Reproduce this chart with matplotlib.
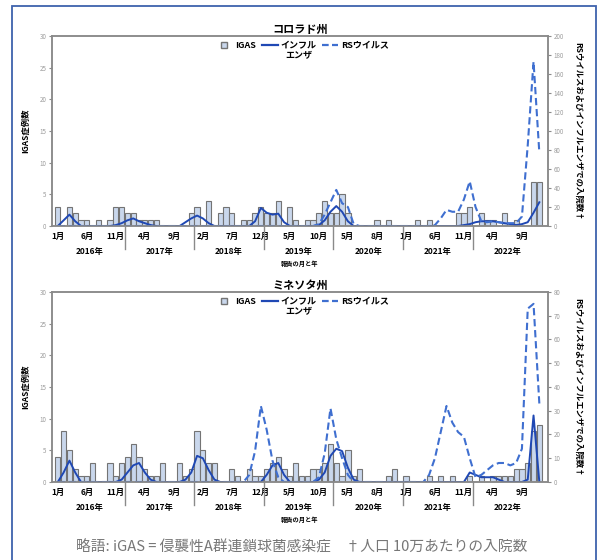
import matplotlib
matplotlib.use("Agg")
import matplotlib.pyplot as plt
import matplotlib.transforms as mtransforms
from matplotlib.lines import Line2D
from matplotlib.patches import Rectangle

plt.rcParams['font.family'] = ['Noto Sans CJK JP', 'DejaVu Sans']

# monthly data, Jan 2016 .. Dec 2022
months = list(range(84))
month_ticks = list(range(0, 84, 5))
month_labels = ["1月", "6月", "11月", "4月", "9月", "2月", "7月", "12月", "5月",
                "10月", "5月", "8月", "1月", "6月", "11月", "4月", "9月"]
year_labels = ["2016年", "2017年", "2018年", "2019年", "2020年", "2021年", "2022年"]

co_igas = [3, 0, 3, 2, 1, 1, 0, 1, 0, 1, 3, 3,
           2, 2, 1, 1, 1, 1, 0, 0, 0, 0, 0, 2,
           3, 0, 4, 0, 2, 3, 2, 0, 1, 1, 2, 3,
           2, 2, 4, 0, 3, 1, 0, 1, 1, 2, 4, 2,
           2, 5, 2, 0, 0, 0, 0, 1, 0, 1, 0, 0,
           0, 0, 1, 0, 1, 0, 0, 0, 0, 2, 2, 3,
           0, 2, 1, 1, 0, 2, 0, 1, 0, 0, 7, 7]
co_flu = [0, 6, 12, 5, 0, 0, 0, 0, 0, 0, 1, 3,
          6, 8, 5, 3, 1, 0, 0, 0, 0, 0, 4, 8,
          11, 8, 3, 0, 0, 0, 0, 0, 0, 0, 5, 19,
          14, 12, 13, 4, 0, 0, 0, 0, 0, 1, 6, 15,
          21, 15, 5, 0, 0, 0, 0, 0, 0, 0, 0, 0,
          0, 0, 0, 0, 0, 0, 0, 0, 0, 0, 1, 2,
          4, 5, 5, 5, 4, 3, 2, 1, 2, 4, 14, 25]
co_rsv = [0, 0, 0, 0, 0, 0, 0, 0, 0, 0, 0, 0,
          0, 0, 0, 0, 0, 0, 0, 0, 0, 0, 0, 0,
          0, 0, 0, 0, 0, 0, 0, 0, 0, 0, 0, 0,
          0, 0, 0, 0, 0, 0, 0, 0, 0, 2, 12, 25,
          38, 24, 20, 2, 0, 0, 0, 0, 0, 0, 0, 0,
          0, 0, 0, 0, 0, 1, 8, 17, 15, 15, 28, 47,
          20, 5, 4, 5, 4, 3, 3, 3, 10, 85, 173, 77]

mn_igas = [4, 8, 5, 2, 1, 1, 3, 0, 0, 3, 1, 3,
           4, 6, 4, 2, 1, 1, 3, 0, 0, 3, 1, 2,
           8, 5, 3, 3, 0, 0, 2, 1, 0, 2, 1, 1,
           2, 3, 4, 2, 1, 3, 1, 1, 2, 2, 3, 6,
           3, 1, 5, 1, 2, 0, 0, 0, 0, 1, 2, 0,
           1, 0, 0, 0, 1, 0, 1, 0, 1, 0, 0, 1,
           0, 1, 0, 1, 1, 1, 1, 2, 2, 3, 8, 9]
mn_flu = [0, 4, 9, 4, 0, 0, 0, 0, 0, 0, 0, 1,
          4, 7, 8, 4, 1, 0, 0, 0, 0, 0, 1, 4,
          11, 10, 5, 1, 0, 0, 0, 0, 0, 0, 0, 0,
          3, 7, 8, 3, 0, 0, 0, 0, 0, 1, 4, 11,
          14, 13, 6, 1, 0, 0, 0, 0, 0, 0, 0, 0,
          0, 0, 0, 0, 0, 0, 0, 0, 0, 0, 0, 4,
          3, 2, 2, 2, 1, 0, 0, 0, 0, 1, 28, 0]
mn_rsv = [0, 0, 0, 0, 0, 0, 0, 0, 0, 0, 0, 0,
          0, 0, 0, 0, 0, 0, 0, 0, 0, 0, 0, 0,
          0, 0, 0, 0, 0, 0, 0, 0, 0, 3, 13, 32,
          22, 9, 2, 0, 0, 0, 0, 0, 0, 2, 12, 31,
          18, 10, 3, 0, 0, 0, 0, 0, 0, 0, 0, 0,
          0, 0, 0, 0, 3, 10, 21, 32, 25, 21, 19, 10,
          2, 3, 5, 7, 8, 8, 7, 8, 14, 73, 75, 33]

legend_labels = ["IGAS", "インフル", "RSウイルス"]
flu_label_2nd_line = "エンザ"

BAR_FILL = "#c9d7ec"
BAR_EDGE = "#747474"
FLU_COLOR = "#1f48b4"
RSV_COLOR = "#3f6fd0"
AXIS_GRAY = "#8a8a8a"
TICK_GRAY = "#9c9c9c"


def _draw_panel(fig, rect, title, igas, flu, rsv, rsv_max, rsv_step):
    ax = fig.add_axes(rect)
    ax2 = ax.twinx()

    ax.bar(months, igas, width=0.9, color=BAR_FILL, edgecolor=BAR_EDGE, linewidth=0.8)
    ax2.plot(months, flu, color=FLU_COLOR, lw=1.4)
    ax2.plot(months, rsv, color=RSV_COLOR, lw=1.5, linestyle=(0, (3.5, 1.8)))

    ax.set_xlim(-1.0, 84.5)
    ax.set_ylim(0, 30)
    ax2.set_ylim(0, rsv_max)
    ax.set_yticks(range(0, 31, 5))
    ax2.set_yticks(range(0, rsv_max + 1, rsv_step))

    for a in (ax, ax2):
        for s in a.spines.values():
            s.set_color(AXIS_GRAY)
            s.set_linewidth(1.1)
    ax.tick_params(axis='y', labelsize=4.5, labelcolor=TICK_GRAY, color=AXIS_GRAY,
                   length=2, width=0.8, pad=2)
    ax2.tick_params(axis='y', labelsize=4.5, labelcolor=TICK_GRAY, color=AXIS_GRAY,
                    length=2, width=0.8, pad=2)

    ax.set_xticks(month_ticks, month_labels)
    ax.tick_params(axis='x', length=0, pad=4, labelsize=6)
    for lbl in ax.get_xticklabels():
        lbl.set_fontweight('bold')

    trans = mtransforms.blended_transform_factory(ax.transData, ax.transAxes)
    for i, yr in enumerate(year_labels):
        ax.text(12 * i + 5.5, -0.135, yr, transform=trans, ha='center', va='center',
                fontsize=6, fontweight='bold')
        if i > 0:
            ax.plot([12 * i - 0.5] * 2, [0, -0.12], transform=trans, color=AXIS_GRAY,
                    lw=1.0, clip_on=False)
    ax.text(41.7, -0.195, "報告の月と年", transform=trans, ha='center', va='center',
            fontsize=4.5, fontweight='bold')

    ax.set_title(title, fontsize=8, fontweight='bold', pad=2)
    ax.set_ylabel("IGAS症例数", fontsize=6, fontweight='bold')
    ax.yaxis.set_label_coords(-0.045, 0.5)
    ax2.set_ylabel("RSウイルスおよびインフルエンザでの入院数†", fontsize=6,
                   fontweight='bold', rotation=270, va='center')
    ax2.yaxis.set_label_coords(1.06, 0.5)

    handles = [
        Line2D([], [], marker='s', linestyle='none', markerfacecolor=BAR_FILL,
               markeredgecolor=BAR_EDGE, markersize=4.5),
        Line2D([], [], color=FLU_COLOR, lw=1.6),
        Line2D([], [], color=RSV_COLOR, lw=1.6, linestyle=(0, (3, 1.5))),
    ]
    leg = ax2.legend(handles, legend_labels, loc='upper center',
                     bbox_to_anchor=(0.505, 1.0), ncol=3, frameon=False, fontsize=6.5,
                     handlelength=1.8, handletextpad=0.3, columnspacing=0.6,
                     borderaxespad=0.2)
    for t in leg.get_texts():
        t.set_fontweight('bold')
    return ax, leg


fig = plt.figure(figsize=(6, 5.6), dpi=100)

panels = [
    _draw_panel(fig, [0.0867, 0.5964, 0.8267, 0.3393], "コロラド州",
                co_igas, co_flu, co_rsv, 200, 20),
    _draw_panel(fig, [0.0867, 0.1393, 0.8267, 0.3393], "ミネソタ州",
                mn_igas, mn_flu, mn_rsv, 80, 10),
]

# second line of the influenza legend label, centred under the first line
fig.canvas.draw()
renderer = fig.canvas.get_renderer()
for ax, leg in panels:
    bb = leg.get_texts()[1].get_window_extent(renderer)
    bb = bb.transformed(fig.transFigure.inverted())
    fig.text((bb.x0 + bb.x1) / 2, bb.y0 - 0.002, flu_label_2nd_line, ha='center', va='top',
             fontsize=6.5, fontweight='bold')

fig.text(0.502, 0.023, "略語: iGAS = 侵襲性A群連鎖球菌感染症　†人口 10万あたりの入院数",
         ha='center', va='center', fontsize=10.6, color='#777777')

fig.patches.append(Rectangle((0.02, -0.05), 0.9733, 1.039, transform=fig.transFigure,
                             fill=False, edgecolor='#3e62ad', lw=1.3))

fig.savefig("out.png", dpi=100)
